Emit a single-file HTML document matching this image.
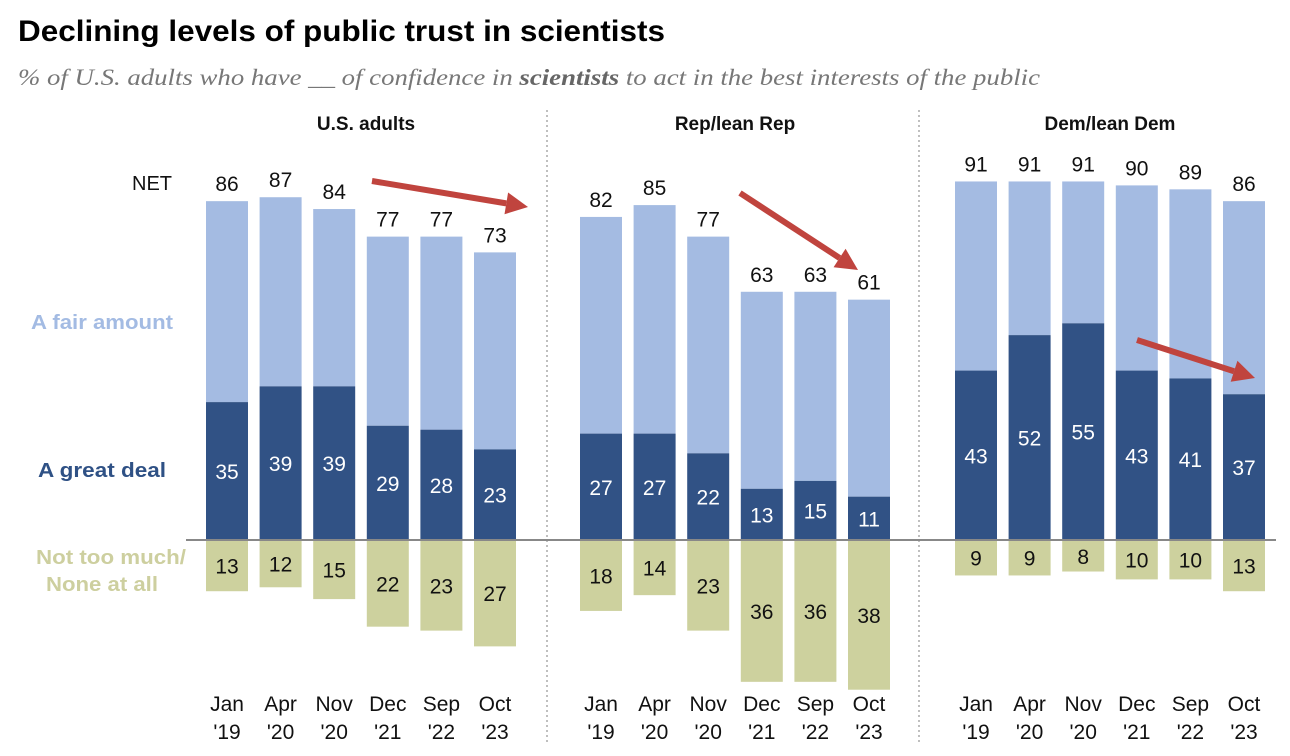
<!DOCTYPE html>
<html><head><meta charset="utf-8"><style>
html,body{margin:0;padding:0;background:#fff;}
svg{display:block;font-family:"Liberation Sans",sans-serif;}
</style></head><body>
<svg id="chart" width="1290" height="756" viewBox="0 0 1290 756">
<text x="18" y="41" font-size="30" font-weight="bold" fill="#000" textLength="647" lengthAdjust="spacingAndGlyphs">Declining levels of public trust in scientists</text>
<text x="18" y="85" font-family="Liberation Serif, serif" font-style="italic" font-size="23" fill="#777" textLength="1022" lengthAdjust="spacingAndGlyphs">% of U.S. adults who have __ of confidence in <tspan font-weight="bold" fill="#666">scientists</tspan> to act in the best interests of the public</text>
<text x="152" y="190" font-size="20" text-anchor="middle" fill="#111">NET</text>
<text x="102" y="329" font-size="20" font-weight="bold" text-anchor="middle" fill="#a3bbe3" textLength="142" lengthAdjust="spacingAndGlyphs">A fair amount</text>
<text x="102" y="477" font-size="20" font-weight="bold" text-anchor="middle" fill="#2f5185" textLength="128" lengthAdjust="spacingAndGlyphs">A great deal</text>
<text x="111" y="564" font-size="20" font-weight="bold" text-anchor="middle" fill="#cdcf9f" textLength="150" lengthAdjust="spacingAndGlyphs">Not too much/</text>
<text x="102" y="591" font-size="20" font-weight="bold" text-anchor="middle" fill="#cdcf9f" textLength="112" lengthAdjust="spacingAndGlyphs">None at all</text>
<line x1="547" y1="110" x2="547" y2="742" stroke="#aaa" stroke-width="1.5" stroke-dasharray="2,3"/>
<line x1="919" y1="110" x2="919" y2="742" stroke="#aaa" stroke-width="1.5" stroke-dasharray="2,3"/>
<g id="bars"></g>
<line x1="186" y1="540" x2="1276" y2="540" stroke="#888" stroke-width="2"/>
<g id="arrows"></g>
</svg>
<script>
const months = ["Jan","Apr","Nov","Dec","Sep","Oct"];
const years = ["'19","'20","'20","'21","'22","'23"];
const panels = ["U.S. adults","Rep/lean Rep","Dem/lean Dem"];
const netVals = [[86,87,84,77,77,73],[82,85,77,63,63,61],[91,91,91,90,89,86]];
const greatVals = [[35,39,39,29,28,23],[27,27,22,13,15,11],[43,52,55,43,41,37]];
const notVals = [[13,12,15,22,23,27],[18,14,23,36,36,38],[9,9,8,10,10,13]];

const NS="http://www.w3.org/2000/svg";
const base=540, k=3.94, bw=42, step=53.6;
const panelX=[206,580,955];
const titleX=[366,735,1110];
function y(v){return base - v*k;}
function mk(tag,attrs,parent){const e=document.createElementNS(NS,tag);for(const a in attrs)e.setAttribute(a,attrs[a]);parent.appendChild(e);return e;}
const g=document.getElementById('bars');
panels.forEach((p,pi)=>{
  const t=mk('text',{x:titleX[pi],y:130,'font-size':19,'font-weight':'bold','text-anchor':'middle',fill:'#111'},g);
  t.textContent=p;
  
  
  months.forEach((m,i)=>{
    const x=panelX[pi]+i*step, cx=x+bw/2;
    const n=netVals[pi][i], gd=greatVals[pi][i], nt=notVals[pi][i];
    const r1=mk('rect',{x:x,y:y(n),width:bw,height:(n-gd)*k,fill:'#a4bbe2'},g);
    
    
    const r2=mk('rect',{x:x,y:y(gd),width:bw,height:gd*k,fill:'#315285'},g);
    
    
    const r3=mk('rect',{x:x,y:base,width:bw,height:nt*k,fill:'#cdd19e'},g);
    
    
    const l1=mk('text',{x:cx,y:y(n)-10,'font-size':21,'text-anchor':'middle',fill:'#111'},g);
    l1.textContent=n;
    
    
    const l2=mk('text',{x:cx,y:y(gd/2)+8,'font-size':21,'text-anchor':'middle',fill:'#fff'},g);
    l2.textContent=gd;
    
    
    const l3=mk('text',{x:cx,y:base+nt*k/2+8,'font-size':21,'text-anchor':'middle',fill:'#111'},g);
    l3.textContent=nt;
    
    
    const xm=mk('text',{x:cx,y:711,'font-size':21,'text-anchor':'middle',fill:'#111'},g);
    xm.textContent=m;
    
    
    const xy=mk('text',{x:cx,y:739,'font-size':21,'text-anchor':'middle',fill:'#111'},g);
    xy.textContent=years[i];
    
    
  });
});
const ag=document.getElementById('arrows');
function arrow(x1,y1,x2,y2){
  const dx=x2-x1, dy=y2-y1, L=Math.hypot(dx,dy), ux=dx/L, uy=dy/L, px=-uy, py=ux;
  const hl=22, hw=11, bx=x2-ux*hl, by=y2-uy*hl;
  const a=mk('g',{},ag);
  
  
  mk('line',{x1:x1,y1:y1,x2:bx,y2:by,stroke:'#c0443e','stroke-width':6},a);
  mk('polygon',{points:`${x2},${y2} ${bx+px*hw},${by+py*hw} ${bx-px*hw},${by-py*hw}`,fill:'#c0443e'},a);
}
arrow(372,181,528,207);
arrow(740,193,858,270);
arrow(1137,340,1255,378);
</script>
</body></html>
